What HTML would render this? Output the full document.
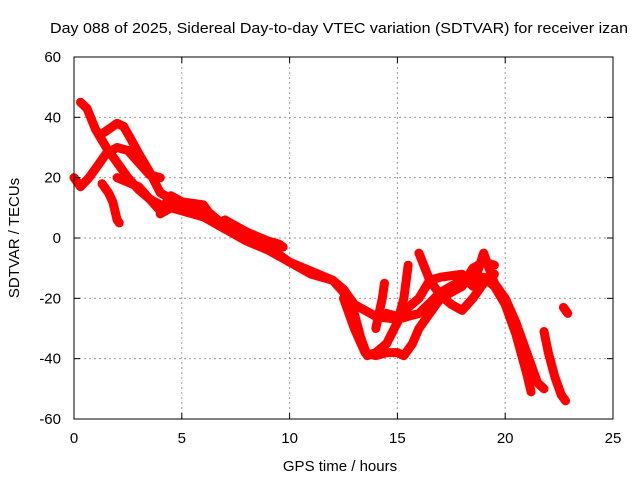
<!DOCTYPE html>
<html><head><meta charset="utf-8"><style>
body{margin:0;background:#fff}
svg text{font-family:"Liberation Sans",sans-serif;font-size:15px;fill:#000}
</style></head><body>
<svg width="640" height="480" id="c">
<text x="339" y="33" text-anchor="middle" textLength="578" lengthAdjust="spacingAndGlyphs">Day 088 of 2025, Sidereal Day-to-day VTEC variation (SDTVAR) for receiver izan</text>
<text x="340" y="471" text-anchor="middle">GPS time / hours</text>
<text transform="translate(19,238) rotate(-90)" text-anchor="middle">SDTVAR / TECUs</text>
<g id="grid"></g><g id="marks"></g><g id="axes"></g>
</svg>
<script>
const xTicks=[0,5,10,15,20,25];
const yTicks=[-60,-40,-20,0,20,40,60];
const tracks=[
[[0.3,45],[0.6,43],[1,36],[1.5,30],[2,25],[2.5,20],[3,16],[3.5,13],[4,11],[5,9],[6,7],[7,3],[8,-1],[9,-4],[10,-8],[11,-11],[12,-14],[12.5,-18],[13,-25],[13.3,-33],[13.6,-39],[14,-38],[14.5,-35],[15,-28],[15.3,-20],[15.5,-9]],
[[0,20],[0.3,17],[0.7,20],[1,23],[1.5,28],[2,30],[2.5,29],[3,25],[3.5,21],[4,20]],
[[1.4,35],[2,38],[2.3,37],[2.7,32],[3,28],[3.5,22],[4,15],[4.5,13]],
[[1.3,18],[1.6,15],[1.8,12],[2,6],[2.1,5]],
[[2,20],[3,17],[4,9],[4.5,14],[5,12],[6,11],[6.2,9]],
[[4,8],[5,12],[6,10],[7,4],[8,2],[9,-1],[9.5,-2],[9.7,-3]],
[[7,6],[8,2],[9,-3],[10,-8],[11,-12],[12,-14],[12.5,-17],[13,-22],[14,-26],[15,-27],[16,-25],[17,-18],[18,-14],[19,-13],[19.5,-16],[20,-22],[20.5,-32],[21,-45],[21.2,-51]],
[[12.5,-20],[13,-30],[13.5,-38],[14,-39],[14.5,-38],[15,-38],[15.3,-39],[15.7,-35],[16,-30],[16.5,-25],[17,-20],[17.5,-18],[18,-16],[18.5,-10],[19,-8],[19.5,-9]],
[[16,-5],[16.5,-14],[17,-19],[17.5,-22],[18,-24],[18.5,-20],[19,-15],[19.5,-12]],
[[14.5,-25],[15,-26],[15.5,-23],[16,-20],[16.5,-14],[17,-13],[18,-12],[18.5,-16],[19,-5],[19.5,-15],[20,-20],[20.5,-28],[21,-38],[21.5,-48],[21.8,-50]],
[[14,-30],[14.3,-20],[14.4,-15]],
[[21.8,-31],[22,-38],[22.3,-46],[22.6,-52],[22.8,-54]],
[[22.7,-23],[22.9,-25]]
];
const X0=74,X1=613,Y0=419,Y1=57;
const sx=v=>X0+(v-0)/25*(X1-X0);
const sy=v=>Y0-(v+60)/120*(Y0-Y1);
const NS="http://www.w3.org/2000/svg";
function mk(t,a,p){const e=document.createElementNS(NS,t);for(const k in a)e.setAttribute(k,a[k]);p.appendChild(e);return e;}
const g=document.getElementById('grid'),ax=document.getElementById('axes'),m=document.getElementById('marks');
xTicks.forEach(t=>{
 if(t>0&&t<25){const l=mk('line',{x1:sx(t),x2:sx(t),y1:Y1,y2:Y0,stroke:'#999','stroke-dasharray':'2,3'},g);
 
 }
 const tk=mk('text',{x:sx(t),y:Y0+24,'text-anchor':'middle'},ax);tk.textContent=t;
 
 
 mk('line',{x1:sx(t),x2:sx(t),y1:Y0,y2:Y0-6,stroke:'#000'},ax);
 mk('line',{x1:sx(t),x2:sx(t),y1:Y1,y2:Y1+6,stroke:'#000'},ax);
});
yTicks.forEach(t=>{
 if(t>-60&&t<60){const l=mk('line',{x1:X0,x2:X1,y1:sy(t),y2:sy(t),stroke:'#999','stroke-dasharray':'2,3'},g);
 
 }
 const tk=mk('text',{x:X0-13,y:sy(t)+5,'text-anchor':'end'},ax);tk.textContent=t;
 
 
 mk('line',{x1:X0,x2:X0+6,y1:sy(t),y2:sy(t),stroke:'#000'},ax);
 mk('line',{x1:X1,x2:X1-6,y1:sy(t),y2:sy(t),stroke:'#000'},ax);
});
const b=mk('rect',{x:X0,y:Y1,width:X1-X0,height:Y0-Y1,fill:'none',stroke:'#000'},ax);


tracks.forEach(tr=>{
 const p=mk('polyline',{points:tr.map(d=>sx(d[0])+','+sy(d[1])).join(' '),fill:'none',stroke:'#f00','stroke-width':9,'stroke-linejoin':'round','stroke-linecap':'round'},m);
 
 
});
</script>
</body></html>
